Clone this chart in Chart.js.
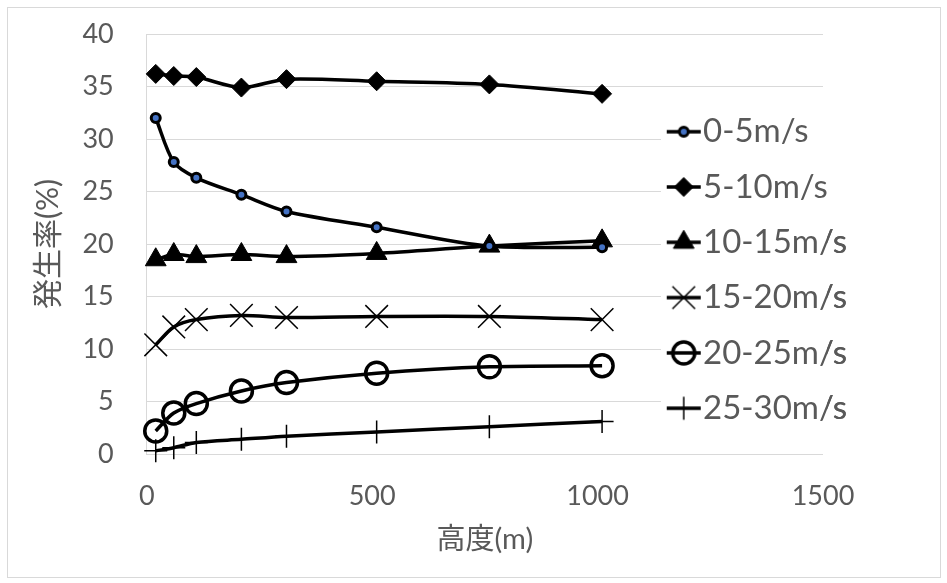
<!DOCTYPE html>
<html lang="ja">
<head>
<meta charset="utf-8">
<title>高度別 風速階級の発生率</title>
<script src="https://cdn.jsdelivr.net/npm/chart.js@4.4.1/dist/chart.umd.min.js"></script>
<style>
  html, body { margin: 0; padding: 0; background: #fff; }
  #wrap { position: relative; width: 947px; height: 583px; }
  #frame { position: absolute; left: 7px; top: 7px; width: 932px; height: 569px;
           border: 1px solid #d9d9d9; pointer-events: none; }
</style>
</head>
<body>
<div id="wrap">
  <canvas id="chart" width="947" height="583"></canvas>
  <div id="frame"></div>
</div>
<script>
// 高度 (m)
const heights = [20, 60, 110, 210, 310, 510, 760, 1010];

// 風速階級ごとの発生率 (%)
const seriesNames = ['0-5m/s', '5-10m/s', '10-15m/s', '15-20m/s', '20-25m/s', '25-30m/s'];
const rate0to5   = [32.0, 27.8, 26.3, 24.7, 23.1, 21.6, 19.8, 19.7];
const rate5to10  = [36.2, 36.0, 35.9, 34.9, 35.7, 35.5, 35.2, 34.3];
const rate10to15 = [18.5, 19.0, 18.8, 19.0, 18.8, 19.1, 19.8, 20.3];
const rate15to20 = [10.4, 12.1, 12.8, 13.2, 13.0, 13.1, 13.1, 12.8];
const rate20to25 = [2.2, 3.9, 4.8, 6.0, 6.8, 7.7, 8.3, 8.4];
const rate25to30 = [0.3, 0.6, 1.1, 1.4, 1.7, 2.1, 2.6, 3.1];

const xTicks = [0, 500, 1000, 1500];
const yTicks = [0, 5, 10, 15, 20, 25, 30, 35, 40];

const FONT = 'Lato, "Noto Sans CJK JP", sans-serif';
const TEXT = '#595959';
const GRID = '#d9d9d9';
const NONE = 'rgba(0,0,0,0)';

// マーカーの見た目 (系列順)
const markers = [
  { pointStyle: 'circle',   pointRadius: 4.5,  pointBorderWidth: 3,   pointBackgroundColor: '#4472C4' },
  { pointStyle: 'rectRot',  pointRadius: 9.5,  pointBorderWidth: 1,   pointBackgroundColor: '#000' },
  { pointStyle: 'triangle', pointRadius: 12,   pointBorderWidth: 1,   pointBackgroundColor: '#000' },
  { pointStyle: 'crossRot', pointRadius: 16,   pointBorderWidth: 1.5, pointBackgroundColor: '#000' },
  { pointStyle: 'circle',   pointRadius: 11,   pointBorderWidth: 3.5, pointBackgroundColor: NONE },
  { pointStyle: 'cross',    pointRadius: 11.5, pointBorderWidth: 1.5, pointBackgroundColor: '#000' }
];

const allRates = [rate0to5, rate5to10, rate10to15, rate15to20, rate20to25, rate25to30];

const datasets = allRates.map((rates, i) => Object.assign({
  label: seriesNames[i],
  data: rates.map((v, j) => ({ x: heights[j], y: v })),
  borderColor: '#000',
  borderWidth: 3.5,
  pointBorderColor: '#000',
  tension: 0.3,
  fill: false,
  clip: false
}, markers[i], { pointHoverRadius: markers[i].pointRadius }));

// 凡例用の小さな見本 (線+マーカー)
function legendSample(ds) {
  const c = document.createElement('canvas');
  c.width = 36; c.height = 36;
  const ctx = c.getContext('2d');
  ctx.strokeStyle = '#000';
  ctx.lineWidth = 3.5;
  ctx.beginPath(); ctx.moveTo(1, 18); ctx.lineTo(35, 18); ctx.stroke();
  ctx.fillStyle = ds.pointBackgroundColor;
  ctx.strokeStyle = ds.pointBorderColor;
  ctx.lineWidth = ds.pointBorderWidth;
  Chart.helpers.drawPoint(ctx, {
    pointStyle: ds.pointStyle, radius: ds.pointRadius,
    borderWidth: ds.pointBorderWidth, rotation: 0
  }, 18, 18);
  return c;
}

// 凡例はプロット領域の右側に重ねて白地で表示
const legendBox = { left: 658.6, top: 92.9, right: 940, bottom: 490 };
const legendOverlay = {
  id: 'legendOverlay',
  afterLayout(chart) {
    const lg = chart.legend;
    lg.left = legendBox.left; lg.right = legendBox.right;
    lg.top = legendBox.top; lg.bottom = legendBox.bottom;
    lg.width = lg.right - lg.left; lg.height = lg.bottom - lg.top;
  },
  beforeDatasetsDraw(chart) {
    const ctx = chart.ctx;
    ctx.save();
    ctx.fillStyle = '#fff';
    ctx.fillRect(661, 100, chart.chartArea.right - 661 + 4, 330);
    ctx.restore();
    chart.legend.draw();
  }
};

new Chart(document.getElementById('chart'), {
  type: 'line',
  data: { datasets: datasets },
  plugins: [legendOverlay],
  options: {
    responsive: false,
    animation: false,
    layout: { padding: { top: 34, left: 26, right: 124, bottom: 21.6 } },
    plugins: {
      tooltip: { enabled: false },
      legend: {
        position: 'chartArea',
        align: 'start',
        labels: {
          usePointStyle: true,
          pointStyleWidth: 5.6,
          padding: 22.3,
          color: TEXT,
          font: { family: FONT, size: 33 },
          generateLabels(chart) {
            return chart.data.datasets.map((ds, i) => ({
              text: ds.label,
              pointStyle: legendSample(ds),
              fillStyle: '#000',
              strokeStyle: '#000',
              lineWidth: 0,
              fontColor: TEXT,
              hidden: !chart.isDatasetVisible(i),
              datasetIndex: i
            }));
          }
        }
      }
    },
    scales: {
      x: {
        type: 'linear',
        min: 0, max: 1500,
        afterBuildTicks(axis) { axis.ticks = xTicks.map(v => ({ value: v })); },
        grid: { display: true, drawOnChartArea: false, drawTicks: true, tickLength: 23, tickColor: NONE },
        border: { display: false },
        ticks: { color: TEXT, padding: 3, font: { family: FONT, size: 27 },
                 callback: v => String(v) },
        title: { display: true, text: '高度(m)', color: TEXT,
                 padding: { top: 7.2, bottom: 4 }, font: { family: FONT, size: 29 } }
      },
      y: {
        min: 0, max: 40,
        afterBuildTicks(axis) { axis.ticks = yTicks.map(v => ({ value: v })); },
        grid: { color: GRID, lineWidth: 1, drawTicks: true, tickLength: 30, tickColor: NONE },
        border: { display: true, color: GRID },
        ticks: { color: TEXT, padding: 3, font: { family: FONT, size: 27 },
                 callback: v => String(v) },
        title: { display: true, text: '発生率(%)', color: TEXT,
                 padding: { top: 4, bottom: 13.4 }, font: { family: FONT, size: 30 } }
      }
    }
  }
});
</script>
</body>
</html>
